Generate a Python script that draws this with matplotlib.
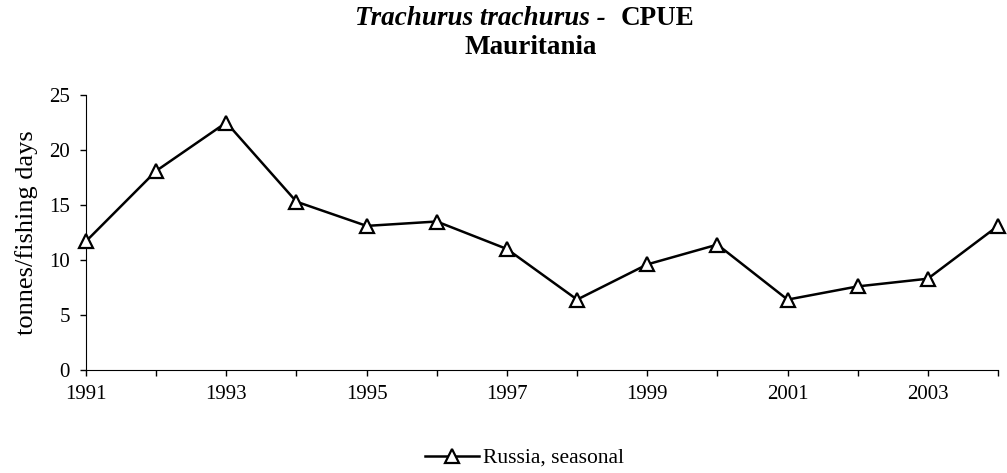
import matplotlib
matplotlib.use('Agg')
import matplotlib.pyplot as plt
import numpy as np

years = [1991, 1992, 1993, 1994, 1995, 1996, 1997, 1998, 1999, 2000, 2001, 2002, 2003, 2004]
cpue = [11.7, 18.1, 22.5, 15.3, 13.1, 13.5, 11.0, 6.4, 9.6, 11.4, 6.4, 7.6, 8.3, 13.1]
yticks = [0, 5, 10, 15, 20, 25]
xlabels = ['1991', '1993', '1995', '1997', '1999', '2001', '2003']

plt.rcParams['font.family'] = ['Liberation Serif', 'DejaVu Serif']

fig = plt.figure(figsize=(10.07, 4.73), dpi=100)
ax = fig.add_axes([86 / 1007, 1 - 370 / 473, 912 / 1007, 275 / 473])

ax.plot(years, cpue, color='black', lw=1.8, marker='^', markersize=10,
        markerfacecolor='white', markeredgecolor='black', markeredgewidth=1.6,
        label='Russia, seasonal', clip_on=False, zorder=3)

ax.set_xlim(1991, 2004)
ax.set_ylim(0, 25)
ax.set_yticks(yticks)
ax.set_xticks(years)
ax.set_xticklabels([str(y) if str(y) in xlabels else '' for y in years])
ax.tick_params(axis='both', labelsize=15, direction='out', length=4.5, width=1)
ax.tick_params(axis='x', pad=6)
ax.tick_params(axis='y', pad=7)
ax.set_ylabel('tonnes/fishing days', fontsize=19, labelpad=8)
for s in ['top', 'right']:
    ax.spines[s].set_visible(False)

# two-style title line, then the area name underneath
fig.text(606 / 1007, 1 - 25 / 473, 'Trachurus trachurus -', fontsize=19.5,
         style='italic', weight='bold', ha='right', va='baseline')
fig.text(621 / 1007, 1 - 25 / 473, 'CPUE', fontsize=19.5,
         weight='bold', ha='left', va='baseline')
fig.text(531 / 1007, 1 - 54 / 473, 'Mauritania', fontsize=19.5,
         weight='bold', ha='center', va='baseline')

fig.legend(loc='center left', bbox_to_anchor=(425 / 1007, 1 - 458 / 473), frameon=False,
           fontsize=15.5, handlelength=2.5, handletextpad=0.2,
           borderpad=0, borderaxespad=0)

fig.savefig('out.png', dpi=100)
